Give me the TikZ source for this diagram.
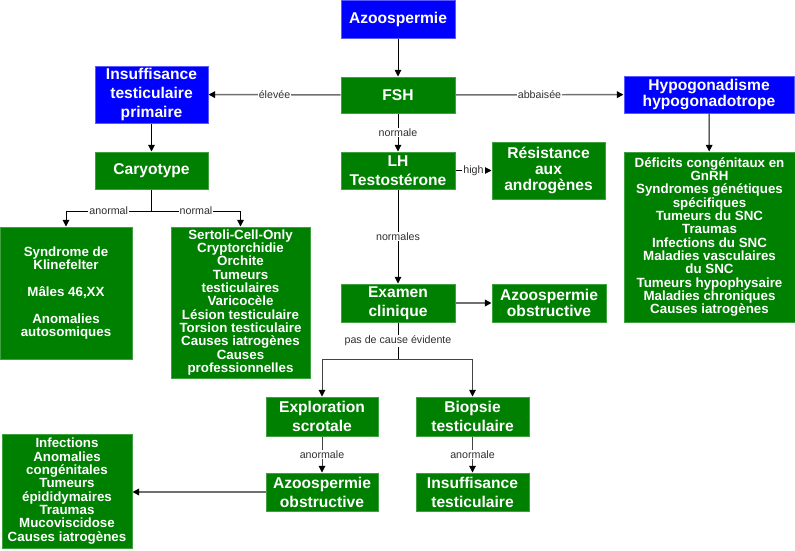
\documentclass[tikz,border=0pt]{standalone}
\usepackage{fontspec}
\setmainfont{Liberation Sans}
\usetikzlibrary{arrows.meta}
\definecolor{bx}{HTML}{0000FF}
\definecolor{bxl}{HTML}{5A5AFF}
\definecolor{gx}{HTML}{008000}
\definecolor{gxl}{HTML}{3FA03F}
\definecolor{lnk}{HTML}{707070}
\definecolor{lbc}{HTML}{303030}
\newdimen\pxu \pxu=0.75pt
\begin{document}
\begin{tikzpicture}[x=0.75pt,y=-0.75pt,
  box/.style={rectangle,inner sep=0pt,text=white,align=center,line width=0.75pt},
  gbox/.style={box,fill=gx,draw=gxl},
  bbox/.style={box,fill=bx,draw=bxl},
  big/.style={font=\fontsize{11.7}{14.25}\selectfont\bfseries},
  bigt/.style={font=\fontsize{11.7}{12}\selectfont\bfseries},
  small/.style={font=\fontsize{10}{10}\selectfont\bfseries},
  arr/.style={draw=black,line width=0.75pt,-{Triangle[length=5pt,width=5pt,color=black]}},
  garr/.style={draw=lnk,line width=1.1pt,-{Triangle[length=5pt,width=5pt,color=black]}},
  gln/.style={draw=lnk,line width=0.9pt},
  lbl/.style={fill=white,text=lbc,font=\fontsize{8}{9}\selectfont,inner sep=0.8pt}]
\useasboundingbox (0,0) rectangle (795,550);

\node[bbox,big,minimum width=114\pxu,minimum height=38\pxu] (azo) at (398,19) {Azoospermie};
\node[gbox,big,minimum width=114\pxu,minimum height=36\pxu] (fsh) at (398,95) {FSH};
\node[bbox,big,minimum width=113\pxu,minimum height=57\pxu] (ins) at (151.5,94.5) {Insuffisance\\testiculaire\\primaire};
\node[gbox,big,minimum width=113\pxu,minimum height=37\pxu] (car) at (151.5,170.5) {Caryotype};
\node[gbox,big,minimum width=114\pxu,minimum height=37\pxu] (lh) at (398,170.5) {LH\\Testostérone};
\node[gbox,bigt,minimum width=113\pxu,minimum height=57\pxu] (res) at (548.5,170.5) {Résistance\\aux\\androgènes};
\node[bbox,bigt,minimum width=170\pxu,minimum height=37\pxu] (hyp) at (709,94.5) {Hypogonadisme\\hypogonadotrope};
\node[gbox,small,minimum width=171\pxu,minimum height=170\pxu] (def) at (709.5,237) {Déficits congénitaux en\\GnRH\\Syndromes génétiques\\spécifiques\\Tumeurs du SNC\\Traumas\\Infections du SNC\\Maladies vasculaires\\du SNC\\Tumeurs hypophysaire\\Maladies chroniques\\Causes iatrogènes};
\node[gbox,small,minimum width=132\pxu,minimum height=132\pxu] (kli) at (66,293) {Syndrome de\\Klinefelter\\[10pt]Mâles 46,XX\\[10pt]Anomalies\\autosomiques};
\node[gbox,small,minimum width=139\pxu,minimum height=151\pxu] (ser) at (240.5,302.5) {Sertoli-Cell-Only\\Cryptorchidie\\Orchite\\Tumeurs\\testiculaires\\Varicocèle\\Lésion testiculaire\\Torsion testiculaire\\Causes iatrogènes\\Causes\\professionnelles};
\node[gbox,big,minimum width=114\pxu,minimum height=38\pxu] (exa) at (398,303) {Examen\\clinique};
\node[gbox,bigt,minimum width=114\pxu,minimum height=38\pxu] (aob) at (549,303) {Azoospermie\\obstructive};
\node[gbox,big,minimum width=112\pxu,minimum height=39\pxu] (exp) at (322,416.5) {Exploration\\scrotale};
\node[gbox,big,minimum width=113\pxu,minimum height=39\pxu] (bio) at (472.5,416.5) {Biopsie\\testiculaire};
\node[gbox,big,minimum width=112\pxu,minimum height=38\pxu] (aobb) at (322,492) {Azoospermie\\obstructive};
\node[gbox,big,minimum width=113\pxu,minimum height=38\pxu] (insb) at (472.5,492) {Insuffisance\\testiculaire};
\node[gbox,small,minimum width=130\pxu,minimum height=114\pxu] (lst) at (67,491) {Infections\\Anomalies\\congénitales\\Tumeurs\\épididymaires\\Traumas\\Mucoviscidose\\Causes iatrogènes};

\coordinate (cs) at (151.5,211);
\coordinate (es) at (398,359);

\draw[arr] (azo) -- (fsh);
\draw[garr] (fsh) -- node[lbl]{élevée} (ins);
\draw[garr] (fsh) -- node[lbl]{abbaisée} (hyp);
\draw[arr] (fsh) -- node[lbl]{normale} (lh);
\draw[arr] (lh) -- node[lbl]{high} (res);
\draw[arr] (hyp) -- (def);
\draw[arr] (ins) -- (car);
\draw[line width=0.75pt] (car) -- (cs);
\draw[arr] (cs) -| node[lbl,pos=0.25]{anormal} (kli);
\draw[arr] (cs) -| node[lbl,pos=0.25]{normal} (ser);
\draw[arr] (lh) -- node[lbl]{normales} (exa);
\draw[garr] (exa) -- (aob);
\draw[line width=0.75pt] (exa) -- node[lbl]{pas de cause évidente} (es);
\draw[arr,draw=lnk!60!black] (es) -| (exp);
\draw[arr,draw=lnk!60!black] (es) -| (bio);
\draw[arr,draw=lnk!60!black] (exp) -- node[lbl]{anormale} (aobb);
\draw[arr,draw=lnk!60!black] (bio) -- node[lbl]{anormale} (insb);
\draw[garr] (aobb.west) -- (aobb.west -| lst.east);
\end{tikzpicture}
\end{document}
